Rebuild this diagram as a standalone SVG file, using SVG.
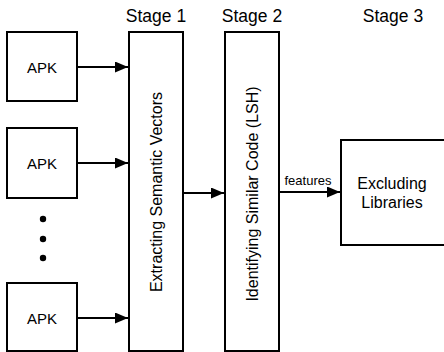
<svg xmlns="http://www.w3.org/2000/svg" width="444" height="352" viewBox="0 0 444 352">
<style>
.box{fill:#fff;stroke:#000;stroke-width:2}
.t{font-family:"Liberation Sans",Arial,sans-serif;fill:#000}
.ln{stroke:#000;stroke-width:2;fill:none}
</style>
<defs>
<marker id="ah" viewBox="0 0 13 11" refX="13" refY="5.5" markerWidth="13" markerHeight="11" markerUnits="userSpaceOnUse" orient="auto">
<path d="M0,0 L13,5.5 L0,11 Z" fill="#000"/>
</marker>
</defs>
<rect width="444" height="352" fill="#fff"/>
<g id="titles">
<text class="t" x="156" y="22" font-size="17.5" text-anchor="middle">Stage 1</text>
<text class="t" x="252" y="22" font-size="17.5" text-anchor="middle">Stage 2</text>
<text class="t" x="393" y="22" font-size="17.5" text-anchor="middle">Stage 3</text>
</g>
<g id="apk1"><rect class="box" x="7" y="32" width="70" height="69"/><text class="t" x="42" y="72.5" font-size="15" text-anchor="middle">APK</text></g>
<g id="apk2"><rect class="box" x="7" y="128" width="70" height="70"/><text class="t" x="42" y="168.5" font-size="15" text-anchor="middle">APK</text></g>
<g id="dots"><circle cx="43" cy="219" r="3.2"/><circle cx="43" cy="239" r="3.2"/><circle cx="43" cy="258" r="3.2"/></g>
<g id="apk3"><rect class="box" x="7" y="283" width="70" height="68"/><text class="t" x="42" y="323.5" font-size="15" text-anchor="middle">APK</text></g>
<g id="stage1"><rect class="box" x="129" y="32" width="54" height="319"/><text class="t" transform="translate(162,192) rotate(-90)" font-size="16" text-anchor="middle">Extracting Semantic Vectors</text></g>
<g id="stage2"><rect class="box" x="225" y="32" width="54" height="319"/><text class="t" transform="translate(258,194) rotate(-90)" font-size="16" text-anchor="middle">Identifying Similar Code (LSH)</text></g>
<g id="stage3"><rect class="box" x="341" y="140" width="110" height="105"/><text class="t" x="392" y="189" font-size="16" text-anchor="middle">Excluding</text><text class="t" x="392" y="208" font-size="16" text-anchor="middle">Libraries</text></g>
<g id="connectors">
<line class="ln" x1="77" y1="67" x2="128" y2="67" marker-end="url(#ah)"/>
<line class="ln" x1="77" y1="163" x2="128" y2="163" marker-end="url(#ah)"/>
<line class="ln" x1="77" y1="318" x2="128" y2="318" marker-end="url(#ah)"/>
<line class="ln" x1="183" y1="193" x2="224" y2="193" marker-end="url(#ah)"/>
<line class="ln" x1="279" y1="192" x2="340" y2="192" marker-end="url(#ah)"/>
<text class="t" x="308" y="185" font-size="13" text-anchor="middle">features</text>
</g>
</svg>
